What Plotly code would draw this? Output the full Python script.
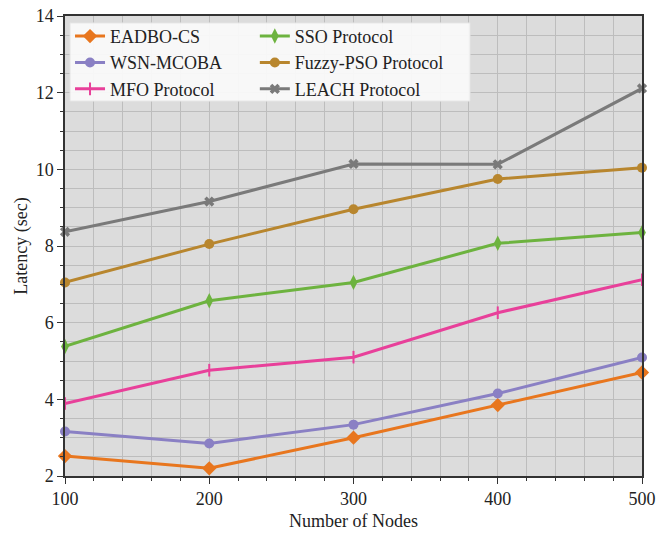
import plotly.graph_objects as go

nodes = [100, 200, 300, 400, 500]
eadbo_cs = [2.52, 2.20, 3.00, 3.85, 4.70]
wsn_mcoba = [3.16, 2.85, 3.34, 4.15, 5.09]
mfo = [3.89, 4.76, 5.10, 6.26, 7.12]
sso = [5.38, 6.57, 7.05, 8.07, 8.35]
fuzzy_pso = [7.05, 8.05, 8.96, 9.75, 10.04]
leach = [8.37, 9.16, 10.14, 10.13, 12.11]

series = [
    ("EADBO-CS", eadbo_cs, "#E8761E", "diamond", 11, "legend"),
    ("WSN-MCOBA", wsn_mcoba, "#8A80C4", "circle", 10, "legend"),
    ("MFO Protocol", mfo, "#E8409A", "line-ns", 9, "legend"),
    ("SSO Protocol", sso, "#6DB33F", "diamond-tall", 11, "legend2"),
    ("Fuzzy-PSO Protocol", fuzzy_pso, "#B8862E", "circle", 10, "legend2"),
    ("LEACH Protocol", leach, "#7A7A7A", "x", 9, "legend2"),
]

fig = go.Figure()
for name, vals, color, sym, size, lg in series:
    marker = dict(symbol=sym, size=size, color=color)
    if sym == "line-ns":
        marker["line"] = dict(color=color, width=2)
    fig.add_trace(go.Scatter(
        x=nodes, y=vals, name=name, mode="lines+markers",
        line=dict(color=color, width=3), marker=marker, cliponaxis=False,
        legend=lg,
    ))

font = "Liberation Serif, Times New Roman, serif"
axis_common = dict(
    showline=True, linecolor="#333333", linewidth=1.5, mirror=True,
    ticks="outside", ticklen=6, tickcolor="#333333",
    showgrid=True, gridcolor="#BDBDBD", gridwidth=1,
    zeroline=False, automargin=False,
    tickfont=dict(family=font, size=18, color="#222222"),
)

fig.update_xaxes(
    range=[100, 500], tickvals=nodes,
    title=dict(text="Number of Nodes", font=dict(family=font, size=18, color="#222222"), standoff=6),
    minor=dict(dtick=20, tick0=100, showgrid=True, gridcolor="#BDBDBD", ticks="outside", ticklen=3, tickcolor="#333333"),
    **axis_common,
)
fig.update_yaxes(
    range=[2, 14], dtick=2,
    title=dict(text="Latency (sec)", font=dict(family=font, size=18, color="#222222"), standoff=3),
    minor=dict(dtick=0.5, showgrid=True, gridcolor="#BDBDBD", ticks="outside", ticklen=3, tickcolor="#333333"),
    **axis_common,
)

legend_common = dict(
    orientation="v", yanchor="top", xanchor="left", y=0.996,
    bgcolor="rgba(0,0,0,0)", borderwidth=0,
    font=dict(family=font, size=18, color="#222222"),
    tracegroupgap=0,
)

fig.update_layout(
    width=669, height=533,
    margin=dict(l=65, r=27, t=16, b=57),
    plot_bgcolor="#DCDCDC", paper_bgcolor="white",
    font=dict(family=font, size=18, color="#222222"),
    legend=dict(x=0.0087, **legend_common),
    legend2=dict(x=0.329, **legend_common),
    shapes=[dict(
        type="rect", xref="paper", yref="paper",
        x0=0.0087, x1=0.702, y0=0.815, y1=0.985,
        fillcolor="rgba(250,250,250,0.94)", line=dict(color="#E4E4E4", width=1),
        layer="above",
    )],
)

fig.write_html(
    "out.html",
    config={"displayModeBar": False},
    post_script="document.body.style.margin='0px';document.body.style.overflow='hidden';",
)
